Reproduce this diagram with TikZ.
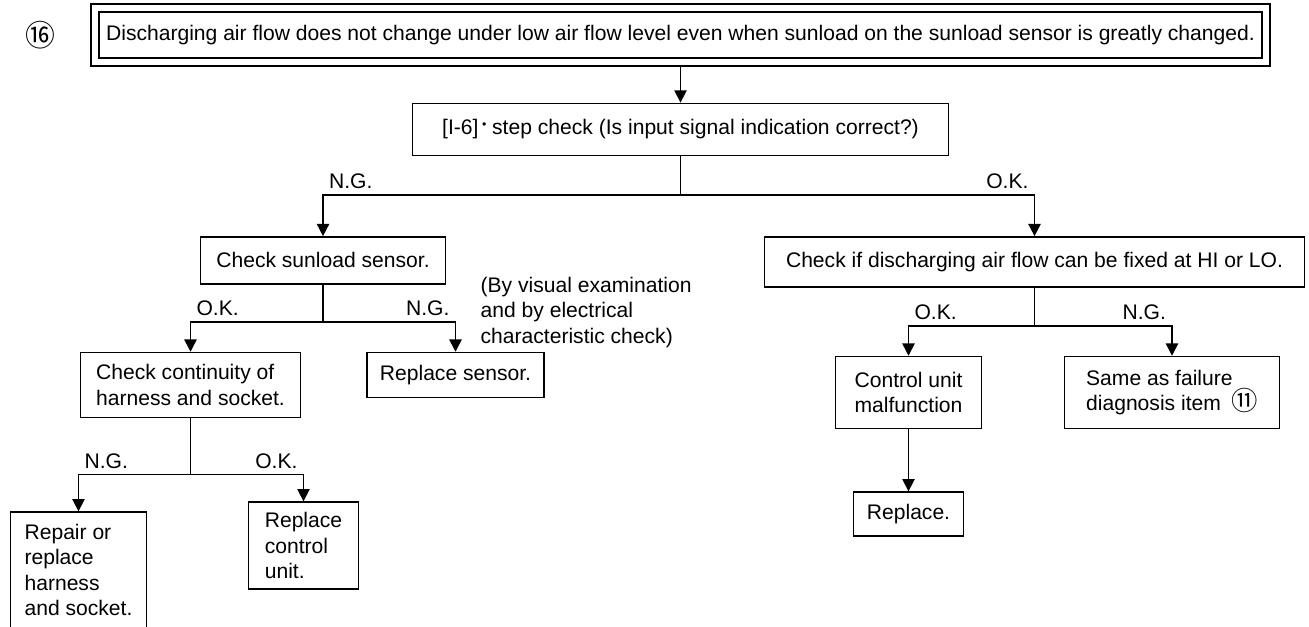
\documentclass[tikz,border=0pt]{standalone}
\usepackage{fontspec}
\setmainfont{Liberation Sans}
\newfontfamily\cjkfont{Noto Sans CJK JP}
\usepackage{tikz}
\usetikzlibrary{arrows.meta, positioning, fit}

\begin{document}
\begin{tikzpicture}[
  box/.style={rectangle, draw, line width=0.9pt, inner sep=4pt, text centered,
              font=\fontsize{12}{14.5}\selectfont},
  arrow/.style={-{Triangle[length=7pt, width=7pt]}, line width=0.9pt},
  line/.style={line width=0.9pt},
  lbl/.style={font=\fontsize{12}{14.5}\selectfont, inner sep=3pt}
]
\useasboundingbox (0,0) rectangle (26.18,-12.52);

\node[box, minimum width=23.26cm, minimum height=0.92cm] (title) at (13.61,-0.70)
  {Discharging air flow does not change under low air flow level even when sunload on the sunload sensor is greatly changed.};
\node[draw, line width=0.9pt, fit=(title), inner sep=0.14cm] (frame) {};
\node[font=\cjkfont\fontsize{17}{17}\selectfont] (mark16) at ([xshift=-1.0cm]frame.west) {⑯};

\node[box, minimum width=10.72cm, minimum height=1.04cm, below=0.72cm of frame] (step)
  {[I-6]\,\raisebox{0.6ex}{\scriptsize\textbullet} step check (Is input signal indication correct?)};
\coordinate[below=0.78cm of step] (split1);

\node[box, minimum width=4.9cm, minimum height=0.94cm, below=1.6cm of step, xshift=-7.15cm] (sunload) {Check sunload sensor.};
\node[box, minimum width=10.8cm, minimum height=1.0cm, below=1.6cm of step, xshift=7.08cm] (rchk)
  {Check if discharging air flow can be fixed at HI or LO.};

\draw[arrow] (frame) -- (step);
\draw[line] (step) -- (split1);
\draw[arrow] (split1) -| node[lbl, pos=0.5, above right] {N.G.} (sunload);
\draw[arrow] (split1) -| node[lbl, pos=0.5, above left] {O.K.} (rchk);

% sensor branch
\coordinate[below=0.74cm of sunload] (split2);
\node[box, align=left, minimum width=4.4cm, minimum height=1.3cm, below=1.34cm of sunload, xshift=-2.65cm] (cont)
  {Check continuity of\\harness and socket.};
\node[box, minimum width=3.54cm, minimum height=0.9cm, below=1.34cm of sunload, xshift=2.65cm] (rsens) {Replace sensor.};
\node[lbl, align=left, anchor=north west, inner sep=0pt] (note) at ([xshift=0.68cm, yshift=0.16cm]sunload.south east)
  {(By visual examination\\and by electrical\\characteristic check)};

\draw[line] (sunload) -- (split2);
\draw[arrow] (split2) -| node[lbl, pos=0.5, above right] {O.K.} (cont);
\draw[arrow] (split2) -| node[lbl, pos=0.5, above left] {N.G.} (rsens);

\coordinate[below=1.12cm of cont] (split4);
\node[box, align=left, minimum width=2.72cm, minimum height=2.32cm, below=1.86cm of cont, xshift=-2.24cm] (repair)
  {Repair or\\replace\\harness\\and socket.};
\node[box, align=left, minimum width=2.2cm, minimum height=1.74cm, below=1.66cm of cont, xshift=2.26cm] (repctrl)
  {Replace\\control\\unit.};

\draw[line] (cont) -- (split4);
\draw[arrow] (split4) -| node[lbl, pos=0.5, above right] {N.G.} (repair);
\draw[arrow] (split4) -| node[lbl, pos=0.5, above left] {O.K.} (repctrl);

% HI / LO branch
\coordinate[below=0.76cm of rchk] (split3);
\node[box, align=center, minimum width=2.92cm, minimum height=1.44cm, below=1.36cm of rchk, xshift=-2.52cm] (ctrl)
  {Control unit\\malfunction};
\node[box, align=left, minimum width=4.3cm, minimum height=1.44cm, below=1.36cm of rchk, xshift=2.75cm] (same)
  {Same as failure\\diagnosis item\enspace{\cjkfont\fontsize{15}{14.5}\selectfont ⑪}};
\node[box, minimum width=2.2cm, minimum height=0.88cm, below=1.24cm of ctrl] (repl) {Replace.};

\draw[line] (rchk) -- (split3);
\draw[arrow] (split3) -| node[lbl, pos=0.5, above right] {O.K.} (ctrl);
\draw[arrow] (split3) -| node[lbl, pos=0.5, above left] {N.G.} (same);
\draw[arrow] (ctrl) -- (repl);
\end{tikzpicture}
\end{document}
